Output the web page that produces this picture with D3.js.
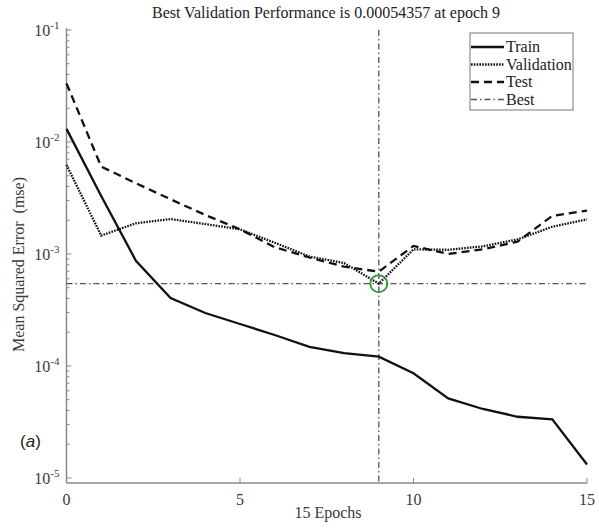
<!DOCTYPE html>
<html>
<head>
<meta charset="utf-8">
<script src="https://cdn.jsdelivr.net/npm/d3@7"></script>
<style>
  body { margin: 0; background: #fff; }
  svg { display: block; }
  text { font-family: "Liberation Serif", "Times New Roman", serif; }
</style>
</head>
<body>
<div id="chart"></div>
<script>
// epochs 0..15
const epochs = d3.range(0, 16);

// mse per epoch
const train = [0.0131, 0.0033, 0.00087, 0.000405, 0.000297, 0.000237, 0.000189, 0.000148,
               0.00013, 0.000121, 0.000086, 0.0000514, 0.0000413, 0.0000352, 0.0000334, 0.0000132];
const validation = [0.00624, 0.00146, 0.00188, 0.00205, 0.00185, 0.00166, 0.00126, 0.00095,
                    0.00083, 0.00054357, 0.0011, 0.00109, 0.00117, 0.00135, 0.00175, 0.00204];
const test = [0.0334, 0.00603, 0.00428, 0.00308, 0.00223, 0.00166, 0.00115, 0.00093,
              0.00077, 0.000695, 0.00118, 0.001, 0.0011, 0.00129, 0.00219, 0.00244];

const bestEpoch = 9;
const bestPerf = 0.00054357;

const xTicks = [0, 5, 10, 15];
const yTickExps = [-1, -2, -3, -4, -5];

const W = 599, H = 528;
const svg = d3.select("#chart").append("svg").attr("width", W).attr("height", H);

// plot area
const pLeft = 66.5, pRight = 587, pTop = 30, pBottom = 483;
const x = d3.scaleLinear().domain([0, 15]).range([pLeft, pRight]);
const y = d3.scaleLog().domain([Math.pow(10, -5.045), 0.1]).range([pBottom, pTop]);

const axisCol = "#8a8a8a";
const textCol = "#3a3a3a";

// axes lines
svg.append("line").attr("x1", pLeft).attr("x2", pLeft).attr("y1", pTop - 2).attr("y2", pBottom)
  .attr("stroke", axisCol).attr("stroke-width", 1.5);
svg.append("line").attr("x1", pLeft).attr("x2", pRight).attr("y1", pBottom).attr("y2", pBottom)
  .attr("stroke", axisCol).attr("stroke-width", 1.5);

// y ticks (major + minor, pointing inward)
yTickExps.forEach(e => {
  const base = Math.pow(10, e);
  svg.append("line").attr("x1", pLeft).attr("x2", pLeft + 5)
    .attr("y1", y(base)).attr("y2", y(base)).attr("stroke", axisCol);
  const t = svg.append("text").attr("x", pLeft - 7).attr("y", y(base) + 6)
    .attr("text-anchor", "end").attr("fill", textCol).style("font-size", "16px");
  t.append("tspan").text("10");
  t.append("tspan").attr("dy", -7).style("font-size", "11px").text(e);
  if (e >= -1) return;
  for (let m = 2; m <= 9; m++) {
    const v = base * m;
    svg.append("line").attr("x1", pLeft).attr("x2", pLeft + 3)
      .attr("y1", y(v)).attr("y2", y(v)).attr("stroke", axisCol);
  }
});

// x ticks
xTicks.forEach(t => {
  svg.append("line").attr("x1", x(t)).attr("x2", x(t)).attr("y1", pBottom).attr("y2", pBottom - 5)
    .attr("stroke", axisCol);
  svg.append("text").attr("x", x(t)).attr("y", pBottom + 22).attr("text-anchor", "middle")
    .attr("fill", textCol).style("font-size", "16px").text(t);
});

// labels
svg.append("text").attr("x", 326).attr("y", 18).attr("text-anchor", "middle")
  .attr("fill", "#222").style("font-size", "16px")
  .text("Best Validation Performance is 0.00054357 at epoch 9");
svg.append("text").attr("x", 328).attr("y", 518).attr("text-anchor", "middle")
  .attr("fill", textCol).style("font-size", "16px").text("15 Epochs");
svg.append("text").attr("transform", `translate(24,${(pTop + pBottom) / 2 + 8}) rotate(-90)`)
  .attr("text-anchor", "middle").attr("fill", textCol).style("font-size", "16px")
  .style("white-space", "pre").text("Mean Squared Error  (mse)");

const panel = svg.append("text").attr("x", 20).attr("y", 447)
  .style("font-family", "'Liberation Sans', Arial, sans-serif").style("font-size", "17px").attr("fill", "#222");
panel.append("tspan").text("(");
panel.append("tspan").style("font-style", "italic").text("a");
panel.append("tspan").text(")");

// best lines
const bestDash = "6,3,1.5,3";
svg.append("line").attr("x1", pLeft).attr("x2", pRight).attr("y1", y(bestPerf)).attr("y2", y(bestPerf))
  .attr("stroke", "#555").attr("stroke-width", 1.3).attr("stroke-dasharray", bestDash);
svg.append("line").attr("x1", x(bestEpoch)).attr("x2", x(bestEpoch)).attr("y1", pTop).attr("y2", pBottom)
  .attr("stroke", "#555").attr("stroke-width", 1.3).attr("stroke-dasharray", bestDash);

// series
const series = [
  { key: "Train", data: train, dash: null },
  { key: "Validation", data: validation, dash: "1.6,1.2" },
  { key: "Test", data: test, dash: "8,5" }
];
const line = d3.line().x((d, i) => x(epochs[i])).y(d => y(d));
series.forEach(s => {
  svg.append("path").datum(s.data).attr("d", line).attr("fill", "none")
    .attr("stroke", "#111").attr("stroke-width", 2.3)
    .attr("stroke-dasharray", s.dash);
});

// best point marker
svg.append("circle").attr("cx", x(bestEpoch)).attr("cy", y(bestPerf)).attr("r", 8.5)
  .attr("fill", "none").attr("stroke", "#3a9a3a").attr("stroke-width", 2);

// legend
const lg = svg.append("g").attr("transform", "translate(470,33)");
lg.append("rect").attr("width", 103).attr("height", 77).attr("fill", "#fff")
  .attr("stroke", "#777").attr("stroke-width", 1);
const legendItems = [
  { label: "Train", dash: null, w: 2.3 },
  { label: "Validation", dash: "1.6,1.2", w: 2.3 },
  { label: "Test", dash: "8,5", w: 2.3 },
  { label: "Best", dash: "6,3,1.5,3", w: 1.3 }
];
legendItems.forEach((d, i) => {
  const yy = 14 + i * 17.5;
  lg.append("line").attr("x1", 1).attr("x2", 34).attr("y1", yy).attr("y2", yy)
    .attr("stroke", d.label === "Best" ? "#555" : "#111").attr("stroke-width", d.w)
    .attr("stroke-dasharray", d.dash);
  lg.append("text").attr("x", 36).attr("y", yy + 5).attr("fill", "#222")
    .style("font-size", "16px").text(d.label);
});
</script>
</body>
</html>
